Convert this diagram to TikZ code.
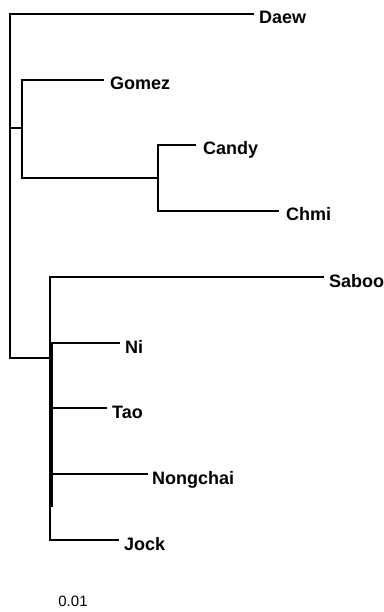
\documentclass[tikz,border=0pt]{standalone}
\usepackage{fontspec}
\setmainfont{Liberation Sans}
\begin{document}
\begin{tikzpicture}[x=1pt,y=-1pt,
  br/.style={line width=1.1pt, line cap=rect},
  thickbr/.style={line width=2.2pt},
  taxon/.style={anchor=base west, inner sep=0pt, font=\fontsize{18}{20}\selectfont\bfseries},
  scalelbl/.style={anchor=base, inner sep=0pt, font=\fontsize{15}{17}\selectfont}]
\useasboundingbox (0,0) rectangle (383,612);
% internal coordinates
\coordinate (rootT) at (10,14);
\coordinate (rootB) at (10,358);
\coordinate (rootM) at (10,128);
\coordinate (gT) at (22,80);
\coordinate (gB) at (22,178);
\coordinate (gM) at (22,128);
\coordinate (cT) at (158,145);
\coordinate (cB) at (158,211);
\coordinate (cM) at (158,178);
\coordinate (sT) at (50,277);
\coordinate (sB) at (50,540);
\coordinate (sM) at (50,358);
\coordinate (tT) at (52,343);
\coordinate (tB) at (52,507);
% leaf ends
\coordinate (eDaew) at (253,14);
\coordinate (eGomez) at (103,80);
\coordinate (eCandy) at (195,145);
\coordinate (eChmi) at (278,211);
\coordinate (eSaboo) at (323,277);
\coordinate (eNi) at (119,343);
\coordinate (eTao) at (106,408);
\coordinate (eNong) at (147,474);
\coordinate (eJock) at (118,540);
% labels
\node[taxon] (Daew) at (259,24) {Daew};
\node[taxon] (Gomez) at (110,90) {Gomez};
\node[taxon] (Candy) at (203,155) {Candy};
\node[taxon] (Chmi) at (286,221) {Chmi};
\node[taxon] (Saboo) at (329,287) {Saboo};
\node[taxon] (Ni) at (125,353) {Ni};
\node[taxon] (Tao) at (112,418) {Tao};
\node[taxon] (Nongchai) at (152,484) {Nongchai};
\node[taxon] (Jock) at (124,550) {Jock};
\node[scalelbl] (scale) at (73,606) {0.01};
% branches
\draw[br] (rootT) -- (rootB);
\draw[br] (rootT) -- (eDaew);
\draw[br] (rootM) -- (gM);
\draw[br] (gT) -- (gB);
\draw[br] (gT) -- (eGomez);
\draw[br] (gB) -- (cM);
\draw[br] (cT) -- (cB);
\draw[br] (cT) -- (eCandy);
\draw[br] (cB) -- (eChmi);
\draw[br] (rootB) -- (sM);
\draw[br] (sT) -- (sB);
\draw[br] (sT) -- (eSaboo);
\draw[thickbr] (tT) -- (tB);
\draw[br] (tT) -- (eNi);
\draw[br] (sB |- eTao) -- (eTao);
\draw[br] (sB |- eNong) -- (eNong);
\draw[br] (sB) -- (eJock);
\end{tikzpicture}
\end{document}
